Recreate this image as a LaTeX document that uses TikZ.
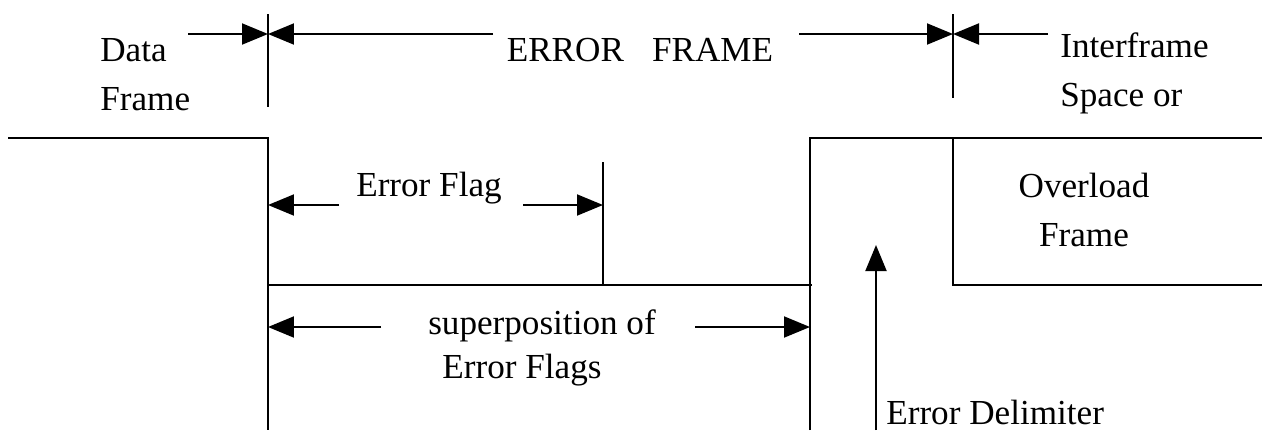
\documentclass[tikz,border=0pt]{standalone}
\usepackage{fontspec}
\setmainfont{Liberation Serif}
\usetikzlibrary{arrows.meta,positioning}

\begin{document}
\begin{tikzpicture}[x=0.02cm,y=-0.02cm,
  wire/.style={line width=1.1pt,color=black},
  arr/.style={line width=1.1pt,-{Triangle[length=5.2mm,width=4.2mm]}},
  lbl/.style={font=\fontsize{20}{28}\selectfont,inner sep=0pt,align=left},
  lblc/.style={font=\fontsize{20}{28}\selectfont,inner sep=0pt,align=center}
]
\useasboundingbox (0,0) rectangle (1262,430);

% Frame boundaries on top.
\coordinate (efL) at (268,34);
\coordinate (efR) at (953,34);
\coordinate (dfS) at (188,34);
\coordinate (emL) at (493,34);
\coordinate (emR) at (799,34);
\coordinate (ifE) at (1048,34);
\draw[wire] (268,14) -- (268,107);
\draw[wire] (953,14) -- (953,98);
\draw[arr] (dfS) -- (efL); \draw[arr] (emL) -- (efL);
\draw[arr] (emR) -- (efR); \draw[arr] (ifE) -- (efR);

\node[lbl,anchor=west] (data) at (100,75) {Data\\Frame};
\node[lblc] (errframe) at (640,50) {ERROR\hspace{0.8em}FRAME};
\node[lbl,anchor=west] (inter) at (1060,73) {Interframe\\Space or};

% Bus levels.
\coordinate (hiL) at (8,138);
\coordinate (fall) at (268,138);
\coordinate (fallB) at (268,430);
\coordinate (rise) at (810,138);
\coordinate (riseB) at (810,430);
\coordinate (lowL) at (268,285);
\coordinate (lowR) at (812,285);
\coordinate (flagT) at (603,162);
\coordinate (flagB) at (603,285);
\coordinate (ovT) at (953,138);
\coordinate (ovB) at (953,285);
\coordinate (hiR) at (1262,138);
\coordinate (ovR) at (1262,285);
\draw[wire] (hiL) -- (fall) -- (fallB);
\draw[wire] (lowL) -- (lowR);
\draw[wire] (riseB) -- (rise) -- (hiR);
\draw[wire] (flagT) -- (flagB);
\draw[wire] (ovT) -- (ovB) -- (ovR);

% Error flag.
\node[lblc] (flag) at (429,188) {Error Flag};
\coordinate (flA) at (268,205); \coordinate (flB) at (339,205);
\coordinate (flC) at (523,205); \coordinate (flD) at (603,205);
\draw[arr] (flB) -- (flA); \draw[arr] (flC) -- (flD);

% Superposition of error flags.
\node[lblc] (sup1) at (542,326) {superposition of};
\node[lblc] (sup2) at (522,370) {Error Flags};
\coordinate (spA) at (268,327); \coordinate (spB) at (381,327);
\coordinate (spC) at (695,327); \coordinate (spD) at (810,327);
\draw[arr] (spB) -- (spA); \draw[arr] (spC) -- (spD);

% Overload frame and delimiter.
\node[lblc] (overload) at (1084,210) {Overload\\Frame};
\coordinate (delB) at (876,430); \coordinate (delT) at (876,245);
\draw[arr] (delB) -- (delT);
\node[lbl,anchor=west] (delim) at (886,412) {Error Delimiter};
\end{tikzpicture}
\end{document}
